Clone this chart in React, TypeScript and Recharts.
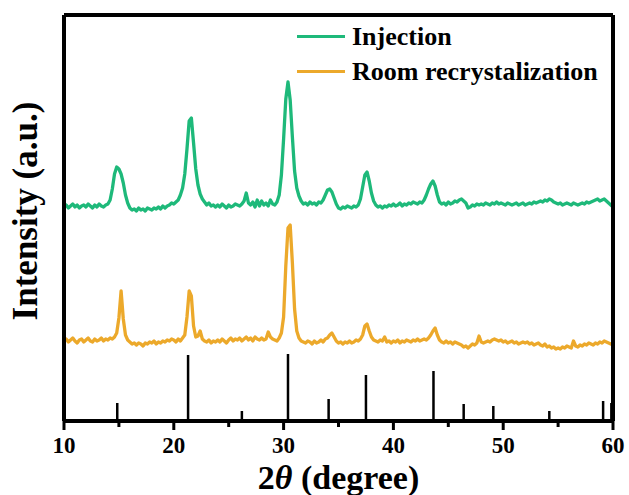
import {
  ComposedChart,
  Line,
  XAxis,
  YAxis,
  ReferenceLine,
  Legend,
  Label,
} from "recharts";

// 2θ grid shared by both patterns (degrees)
const twoTheta = [
  10, 10.2, 10.4, 10.6, 10.8, 11, 11.2, 11.4, 11.6, 11.8,
  12, 12.2, 12.4, 12.6, 12.8, 13, 13.2, 13.4, 13.6, 13.8,
  14, 14.2, 14.4, 14.6, 14.8, 15, 15.2, 15.4, 15.6, 15.8,
  16, 16.2, 16.4, 16.6, 16.8, 17, 17.2, 17.4, 17.6, 17.8,
  18, 18.2, 18.4, 18.6, 18.8, 19, 19.2, 19.4, 19.6, 19.8,
  20, 20.2, 20.4, 20.6, 20.8, 21, 21.2, 21.4, 21.6, 21.8,
  22, 22.2, 22.4, 22.6, 22.8, 23, 23.2, 23.4, 23.6, 23.8,
  24, 24.2, 24.4, 24.6, 24.8, 25, 25.2, 25.4, 25.6, 25.8,
  26, 26.2, 26.4, 26.6, 26.8, 27, 27.2, 27.4, 27.6, 27.8,
  28, 28.2, 28.4, 28.6, 28.8, 29, 29.2, 29.4, 29.6, 29.8,
  30, 30.2, 30.4, 30.6, 30.8, 31, 31.2, 31.4, 31.6, 31.8,
  32, 32.2, 32.4, 32.6, 32.8, 33, 33.2, 33.4, 33.6, 33.8,
  34, 34.2, 34.4, 34.6, 34.8, 35, 35.2, 35.4, 35.6, 35.8,
  36, 36.2, 36.4, 36.6, 36.8, 37, 37.2, 37.4, 37.6, 37.8,
  38, 38.2, 38.4, 38.6, 38.8, 39, 39.2, 39.4, 39.6, 39.8,
  40, 40.2, 40.4, 40.6, 40.8, 41, 41.2, 41.4, 41.6, 41.8,
  42, 42.2, 42.4, 42.6, 42.8, 43, 43.2, 43.4, 43.6, 43.8,
  44, 44.2, 44.4, 44.6, 44.8, 45, 45.2, 45.4, 45.6, 45.8,
  46, 46.2, 46.4, 46.6, 46.8, 47, 47.2, 47.4, 47.6, 47.8,
  48, 48.2, 48.4, 48.6, 48.8, 49, 49.2, 49.4, 49.6, 49.8,
  50, 50.2, 50.4, 50.6, 50.8, 51, 51.2, 51.4, 51.6, 51.8,
  52, 52.2, 52.4, 52.6, 52.8, 53, 53.2, 53.4, 53.6, 53.8,
  54, 54.2, 54.4, 54.6, 54.8, 55, 55.2, 55.4, 55.6, 55.8,
  56, 56.2, 56.4, 56.6, 56.8, 57, 57.2, 57.4, 57.6, 57.8,
  58, 58.2, 58.4, 58.6, 58.8, 59, 59.2, 59.4, 59.6, 59.8,
  60,
];

// offset intensities (a.u.)
const injection = [
  214, 216, 213, 215, 217, 214, 216, 213, 215, 216,
  214, 217, 215, 213, 216, 214, 217, 215, 214, 216,
  217, 221, 232, 247, 254, 252, 247, 238, 226, 218,
  213, 211, 212, 210, 213, 211, 212, 210, 213, 212,
  211, 213, 212, 214, 212, 215, 213, 215, 216, 218,
  217, 219, 221, 226, 233, 247, 272, 300, 303, 278,
  252, 236, 227, 222, 219, 216, 218, 215, 216, 214,
  216, 214, 217, 215, 213, 216, 214, 215, 217, 216,
  215, 217, 220, 228, 218, 216, 219, 214, 221, 215,
  220, 216, 218, 215, 221, 217, 216, 219, 226, 246,
  282, 322, 339, 321, 284, 250, 233, 225, 220, 217,
  218, 216, 219, 217, 218, 216, 219, 218, 221, 226,
  231, 232, 229, 223, 217, 213, 212, 214, 213, 215,
  214, 213, 215, 214, 216, 222, 234, 246, 249, 240,
  228, 220, 216, 214, 215, 213, 215, 214, 216, 215,
  217, 215, 216, 218, 215, 217, 216, 218, 217, 219,
  218, 217, 219, 218, 221, 226, 232, 237, 240, 235,
  226, 219, 217, 218, 216, 219, 217, 218, 220, 219,
  221, 222, 220, 218, 213, 214, 216, 215, 217, 216,
  217, 216, 218, 217, 216, 218, 217, 219, 217, 218,
  217, 216, 218, 217, 216, 217, 218, 216, 217, 218,
  216, 217, 218, 217, 219, 218, 219, 220, 219, 221,
  220, 222, 221, 219, 218, 217, 218, 216, 217, 218,
  217, 216, 218, 217, 216, 217, 218, 217, 219, 218,
  219, 220, 221, 222, 220, 221, 222, 220, 218, 216,
  214,
];

const roomRecryst = [
  80, 82, 79, 81, 83, 80, 78, 81, 82, 79,
  81, 83, 80, 79, 82, 80, 81, 83, 80, 82,
  81, 83, 82, 84, 88, 103, 130, 102, 86, 81,
  79, 77, 78, 76, 78, 77, 75, 78, 77, 79,
  78, 80, 77, 79, 78, 80, 79, 81, 80, 82,
  81, 79, 82, 80, 83, 86, 104, 130, 125, 95,
  84, 85, 90, 82, 80, 79, 81, 78, 80, 79,
  81, 79, 82, 80, 78, 81, 83, 80, 82, 81,
  83, 80, 82, 84, 81, 83, 80, 84, 82, 81,
  83, 81, 82, 89, 84, 82, 81, 80, 83, 88,
  104, 155, 193, 196, 158, 112, 90, 83, 80, 79,
  78, 80, 79, 77, 80, 78, 79, 81, 79, 82,
  83, 86, 88, 84, 80, 78, 79, 77, 79, 78,
  80, 78, 79, 81, 80, 82, 86, 95, 97, 90,
  84, 81, 80, 79, 81, 80, 84, 79, 80, 78,
  80, 79, 81, 78, 80, 79, 81, 80, 79, 81,
  80, 82, 80, 81, 82, 81, 83, 86, 90, 93,
  86, 81, 79, 78, 80, 78, 79, 77, 79, 78,
  77, 76, 74, 75, 73, 75, 77, 76, 78, 85,
  79, 78, 79, 80, 79, 81, 82, 81, 80, 81,
  79, 80, 78, 79, 80, 78, 79, 77, 78, 79,
  78, 79, 77, 78, 76, 77, 78, 76, 75, 77,
  74, 75, 73, 74, 72, 73, 72, 74, 73, 75,
  74, 73, 80, 75, 74, 76, 75, 77, 76, 78,
  77, 76, 78, 77, 79, 78, 80, 79, 78, 77,
  76,
];

// standard reference pattern (stick positions / heights)
const refPos = [14.85, 21.3, 26.2, 30.4, 34.1, 37.5, 43.65, 46.4, 49.1, 54.2, 59.1, 59.85];
const refInt = [18, 66, 10, 67, 22, 46, 50, 17, 15, 10, 20, 18];

const xTicks = [10, 15, 20, 25, 30, 35, 40, 45, 50, 55, 60];

const injData = twoTheta.map((t, i) => ({ t, v: injection[i] }));
const roomData = twoTheta.map((t, i) => ({ t, v: roomRecryst[i] }));

const FONT = "'Liberation Serif', 'Times New Roman', serif";
const GREEN = "#1EB97A";
const ORANGE = "#ECA92B";

const XTick = (props: any) => {
  const { x, y, payload } = props;
  const major = payload.value % 10 === 0;
  return (
    <g>
      <line x1={x} x2={x} y1={y} y2={y + (major ? 9 : 6)} stroke="#000" strokeWidth={3} />
      {major && (
        <text x={x} y={y + 32} textAnchor="middle" fontFamily={FONT} fontWeight="bold" fontSize={23} fill="#000">
          {payload.value}
        </text>
      )}
    </g>
  );
};

const LegendBox = ({ payload }: any) => (
  <div>
    {(payload || []).map((e: any) => (
      <div key={e.value} style={{ display: "flex", alignItems: "center", height: 35 }}>
        <span style={{ display: "inline-block", width: 48, height: 3, background: e.color, marginRight: 7 }} />
        <span style={{ fontFamily: FONT, fontWeight: "bold", fontSize: 26, lineHeight: "35px", color: "#000" }}>
          {e.value}
        </span>
      </div>
    ))}
  </div>
);

export default function App() {
  return (
    <div style={{ position: "absolute", left: 0, top: 0, background: "#fff" }}>
      <ComposedChart width={629} height={495} margin={{ top: 0, right: 0, bottom: 0, left: 0 }}>
        <XAxis
          dataKey="t"
          type="number"
          domain={[10, 60]}
          ticks={xTicks}
          allowDataOverflow
          height={74}
          axisLine={{ stroke: "#000", strokeWidth: 4 }}
          tickLine={false}
          tickSize={0}
          tickMargin={0}
          tick={(p: any) => <XTick {...p} />}
          interval={0}
        >
          <Label
            content={(p: any) => {
              const vb = p.viewBox;
              return (
                <text
                  x={vb.x + vb.width / 2}
                  y={vb.y + 68}
                  textAnchor="middle"
                  fontFamily={FONT}
                  fontWeight="bold"
                  fontSize={34}
                  fill="#000"
                >
                  <tspan>2</tspan>
                  <tspan fontStyle="italic">θ</tspan>
                  <tspan> (degree)</tspan>
                </text>
              );
            }}
          />
        </XAxis>
        <XAxis
          xAxisId="top"
          orientation="top"
          type="number"
          domain={[10, 60]}
          height={15}
          axisLine={{ stroke: "#000", strokeWidth: 4 }}
          tick={false}
          tickLine={false}
        />
        <YAxis
          type="number"
          domain={[0, 406]}
          allowDataOverflow
          width={64}
          axisLine={{ stroke: "#000", strokeWidth: 4 }}
          tick={false}
          tickLine={false}
        >
          <Label
            content={() => (
              <text
                x={37}
                y={211}
                transform="rotate(-90 37 211)"
                textAnchor="middle"
                fontFamily={FONT}
                fontWeight="bold"
                fontSize={35}
                fill="#000"
              >
                Intensity (a.u.)
              </text>
            )}
          />
        </YAxis>
        <YAxis
          yAxisId="right"
          orientation="right"
          type="number"
          domain={[0, 406]}
          width={16}
          axisLine={{ stroke: "#000", strokeWidth: 4 }}
          tick={false}
          tickLine={false}
        />
        <Legend
          layout="horizontal"
          verticalAlign="middle"
          align="center"
          wrapperStyle={{ left: 297, top: 19, width: 330, height: 70 }}
          content={<LegendBox />}
        />
        {refPos.map((p, i) => (
          <ReferenceLine
            key={p}
            segment={[{ x: p, y: 0 }, { x: p, y: refInt[i] }]}
            stroke="#000"
            strokeWidth={2.5}
          />
        ))}
        <Line
          data={injData}
          dataKey="v"
          name="Injection"
          type="linear"
          stroke={GREEN}
          strokeWidth={3.3}
          strokeLinejoin="round"
          dot={false}
          activeDot={false}
          isAnimationActive={false}
        />
        <Line
          data={roomData}
          dataKey="v"
          name="Room recrystalization"
          type="linear"
          stroke={ORANGE}
          strokeWidth={3.3}
          strokeLinejoin="round"
          dot={false}
          activeDot={false}
          isAnimationActive={false}
        />
      </ComposedChart>
    </div>
  );
}
